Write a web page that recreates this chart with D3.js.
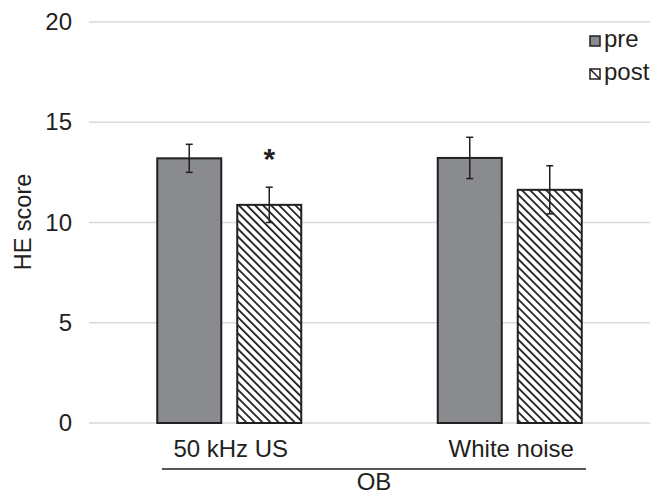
<!DOCTYPE html>
<html>
<head>
	<meta charset="utf-8">
	<title>index</title>
	<script src="https://d3js.org/d3.v7.min.js"></script>
	<style>
		body { margin: 0; background: #fff; }
		svg { display: block; font-family: "Liberation Sans", Arial, sans-serif; }
	</style>
</head>
<body>
<script>
	// data
	var groups = ["50 kHz US", "White noise"];
	var series = ["pre", "post"];
	var preMeans = [13.2, 13.22];
	var preErrs = [0.7, 1.03];
	var postMeans = [10.88, 11.63];
	var postErrs = [0.88, 1.2];
	var yTicks = [0, 5, 10, 15, 20];
	var outerLabel = "OB";
	var starGroup = "50 kHz US"; // * above the post bar

	var W = 653, H = 496;
	var svg = d3.select("body").append("svg").attr("width", W).attr("height", H);

	var defs = svg.append("defs");
	var pat = defs.append("pattern")
		.attr("id", "hatch")
		.attr("patternUnits", "userSpaceOnUse")
		.attr("width", 5.7).attr("height", 5.7)
		.attr("patternTransform", "rotate(-45)");
	pat.append("rect").attr("width", 5.7).attr("height", 5.7).attr("fill", "#fff");
	pat.append("line").attr("x1", 0).attr("y1", 0).attr("x2", 0).attr("y2", 5.7)
		.attr("stroke", "#231f20").attr("stroke-width", 3.6);

	var y = d3.scaleLinear().domain([0, 20]).range([423, 22]);
	var x0 = d3.scaleBand().domain(groups).range([89, 650]);
	var x1 = d3.scaleBand().domain(series).range([0, 144]).paddingInner(0.2);

	// gridlines
	svg.append("g").selectAll("line").data(yTicks).enter().append("line")
		.attr("x1", 89).attr("x2", 650)
		.attr("y1", function(d) { return y(d); })
		.attr("y2", function(d) { return y(d); })
		.attr("stroke", "#d9d9d9").attr("stroke-width", 1.5);

	// y axis labels
	var yAxis = svg.append("g").attr("transform", "translate(89,0)")
		.call(d3.axisLeft(y).tickValues(yTicks).tickSize(0).tickPadding(17));
	yAxis.select(".domain").remove();
	yAxis.selectAll("text").attr("font-size", 24).attr("fill", "#231f20")
		.attr("font-family", "Liberation Sans, Arial, sans-serif");

	svg.append("text")
		.attr("transform", "translate(31,222) rotate(-90)")
		.attr("text-anchor", "middle")
		.attr("font-size", 23.5).attr("fill", "#231f20")
		.text("HE score");

	var rows = [];
	groups.forEach(function(g, i) {
		rows.push({ g: g, s: "pre", v: preMeans[i], e: preErrs[i] });
		rows.push({ g: g, s: "post", v: postMeans[i], e: postErrs[i] });
	});
	function bx(d) { return x0(d.g) + x0.bandwidth() / 2 - 72 + x1(d.s); }

	svg.append("g").selectAll("rect").data(rows).enter().append("rect")
		.attr("x", bx)
		.attr("y", function(d) { return y(d.v); })
		.attr("width", x1.bandwidth())
		.attr("height", function(d) { return y(0) - y(d.v); })
		.attr("fill", function(d) { return d.s === "pre" ? "#8a8b8e" : "url(#hatch)"; })
		.attr("stroke", "#231f20").attr("stroke-width", 2);

	// error bars
	var eb = svg.append("g").selectAll("g").data(rows).enter().append("g")
		.attr("stroke", "#231f20").attr("stroke-width", 1.5);
	eb.append("line")
		.attr("x1", function(d) { return bx(d) + x1.bandwidth() / 2; })
		.attr("x2", function(d) { return bx(d) + x1.bandwidth() / 2; })
		.attr("y1", function(d) { return y(d.v + d.e); })
		.attr("y2", function(d) { return y(d.v - d.e); });
	[1, -1].forEach(function(sgn) {
		eb.append("line")
			.attr("x1", function(d) { return bx(d) + x1.bandwidth() / 2 - 3.5; })
			.attr("x2", function(d) { return bx(d) + x1.bandwidth() / 2 + 3.5; })
			.attr("y1", function(d) { return y(d.v + sgn * d.e); })
			.attr("y2", function(d) { return y(d.v + sgn * d.e); });
	});

	// asterisk
	var starRow = rows.filter(function(d) { return d.g === starGroup && d.s === "post"; })[0];
	svg.append("text")
		.attr("x", bx(starRow) + x1.bandwidth() / 2)
		.attr("y", y(starRow.v + starRow.e) - 18)
		.attr("text-anchor", "middle")
		.attr("font-size", 30).attr("font-weight", "bold").attr("fill", "#231f20")
		.text("*");

	// category labels
	svg.append("g").selectAll("text").data(groups).enter().append("text")
		.attr("x", function(d) { return x0(d) + x0.bandwidth() / 2 + 1.5; })
		.attr("y", 457)
		.attr("text-anchor", "middle")
		.attr("font-size", 24).attr("fill", "#231f20")
		.text(function(d) { return d; });

	svg.append("line")
		.attr("x1", 162).attr("x2", 586).attr("y1", 469).attr("y2", 469)
		.attr("stroke", "#231f20").attr("stroke-width", 1.5);
	svg.append("text")
		.attr("x", (162 + 586) / 2).attr("y", 490)
		.attr("text-anchor", "middle")
		.attr("font-size", 24).attr("fill", "#231f20")
		.text(outerLabel);

	// legend
	var lg = svg.append("g").selectAll("g").data(series).enter().append("g")
		.attr("transform", function(d, i) { return "translate(590," + (36 + i * 33) + ")"; });
	lg.append("rect")
		.attr("width", 10).attr("height", 10)
		.attr("fill", function(d) { return d === "pre" ? "#8a8b8e" : "#fff"; })
		.attr("stroke", "#231f20").attr("stroke-width", 1.5);
	lg.filter(function(d) { return d === "post"; }).append("line")
		.attr("x1", 0).attr("y1", 0).attr("x2", 10).attr("y2", 10)
		.attr("stroke", "#231f20").attr("stroke-width", 1.5);
	lg.append("text")
		.attr("x", 14).attr("y", 11)
		.attr("font-size", 24).attr("fill", "#231f20")
		.text(function(d) { return d; });
</script>
</body>
</html>
